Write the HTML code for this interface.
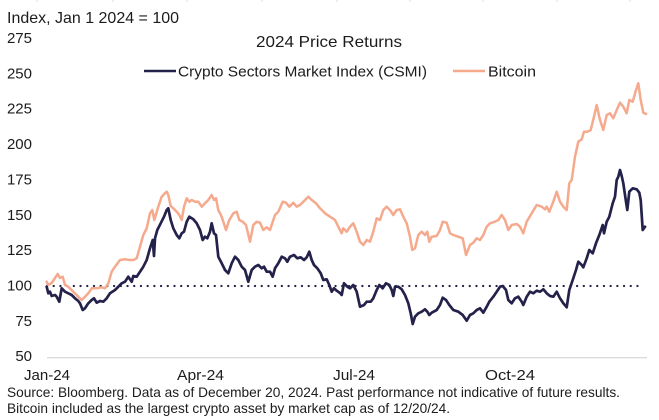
<!DOCTYPE html>
<html>
<head>
<meta charset="utf-8">
<style>
  html,body{margin:0;padding:0;background:#fff;}
  body{width:659px;height:420px;overflow:hidden;}
  svg{display:block;}
  text{font-family:"Liberation Sans",Arial,sans-serif;fill:#1c1c1c;}
</style>
</head>
<body>
<svg width="659" height="420" viewBox="0 0 659 420" xmlns="http://www.w3.org/2000/svg">
  <rect x="0" y="0" width="659" height="420" fill="#ffffff"/>

  <!-- faint top ticks -->
  <g stroke="#dedede" stroke-width="1">
    <line x1="37" y1="0" x2="37" y2="2"/>
    <line x1="113" y1="0" x2="113" y2="2"/>
    <line x1="187" y1="0" x2="187" y2="2"/>
    <line x1="262" y1="0" x2="262" y2="2"/>
    <line x1="337" y1="0" x2="337" y2="2"/>
    <line x1="410" y1="0" x2="410" y2="2"/>
    <line x1="483" y1="0" x2="483" y2="2"/>
    <line x1="557" y1="0" x2="557" y2="2"/>
    <line x1="630" y1="0" x2="630" y2="2"/>
  </g>

  <!-- axis title -->
  <text x="7" y="23" font-size="16" textLength="172" lengthAdjust="spacingAndGlyphs">Index, Jan 1 2024 = 100</text>

  <!-- y tick labels -->
  <g font-size="15" text-anchor="end">
    <text x="32" y="43">275</text>
    <text x="32" y="78.4">250</text>
    <text x="32" y="113.7">225</text>
    <text x="32" y="149">200</text>
    <text x="32" y="184.4">175</text>
    <text x="32" y="219.8">150</text>
    <text x="32" y="255.1">125</text>
    <text x="32" y="290.5">100</text>
    <text x="32" y="325.8">75</text>
    <text x="32" y="361">50</text>
  </g>

  <!-- chart title -->
  <text x="256" y="47" font-size="16" textLength="146" lengthAdjust="spacingAndGlyphs">2024 Price Returns</text>

  <!-- legend -->
  <line x1="144" y1="71" x2="176" y2="71" stroke="#24214a" stroke-width="2.6"/>
  <text x="178" y="76.5" font-size="15" textLength="249" lengthAdjust="spacingAndGlyphs">Crypto Sectors Market Index (CSMI)</text>
  <line x1="453" y1="71" x2="485" y2="71" stroke="#f5a98d" stroke-width="2.6"/>
  <text x="488" y="76.5" font-size="15" textLength="48" lengthAdjust="spacingAndGlyphs">Bitcoin</text>

  <!-- baseline -->
  <line x1="47" y1="357.7" x2="647" y2="357.7" stroke="#d4d4d4" stroke-width="1.2"/>

  <!-- dotted 100 line -->
  <line x1="47" y1="286" x2="642" y2="286" stroke="#24214a" stroke-width="2.3" stroke-linecap="round" stroke-dasharray="0.01 6.7"/>

  <!-- Bitcoin -->
  <polyline fill="none" stroke="#f5a98d" stroke-width="2.5" stroke-linejoin="round" stroke-linecap="round" points="
46.7,281.7 48,285 51.7,283 55,278 57.7,274 60,278 62.7,276.7 65,285 68.3,286.7 73.3,291.7 78.3,296.7 81.7,300 85,296.7 88.3,293.3 91.7,288.3 96.7,288.3 101.7,287.3 105,288.3 108.3,283.3 111.7,271.7 115,266.7 120,260 125,259.3 130,260 133.3,260 136.7,258.3 140,246.7 143.3,235 146.7,228.3 150,213.3 152.3,210 154.3,220 158.3,206.7 161.7,196.7 165,193.3 166.7,191.7 168.3,195 170.7,206 173.3,208.3 176.7,211.7 179.3,215 181.7,220 184,206.7 186.7,198.3 189.3,201.7 191.7,200 195,201.7 198.3,201.7 201.7,206.7 205,203.3 208.3,200 211.7,195 214,200 216,198.3 218.3,210 221.7,216.7 226,230 229.3,220 233.3,213.3 236.7,211.7 239.3,220 242.7,221.7 246,225 250,241.7 253.3,225 256.7,221.7 260,222.7 263.3,230 266.7,227.3 270,230 272.7,221.7 275,215 278.3,211.7 282.7,201.7 286,202.7 289.3,206.7 293.3,202.7 296.7,206.7 300,205 303.3,201.7 308.3,196.7 311.7,200 316,203.3 320,208.3 325,213.3 330,216.7 335,220 338.3,226.7 341.7,233.3 343.3,228.3 346.7,231.7 350,226.7 353.3,223.3 356.7,231.7 360,241.7 363.3,245 366.7,240 370,241.7 373.3,231.7 376.7,218.3 380,220 383.3,210 386.7,206.7 390,210 393.3,215 396.7,210 400,209.3 403.3,216.7 406.7,223.3 410,236.7 412.3,250 415,248.3 418.3,235 421.7,231.7 425,235 427.3,231.7 429.3,241.7 431.7,236.7 436.7,236 440,230 442.7,221.7 446.7,222.7 450,233.3 453.3,235 458.3,236.7 462.7,238.3 466,255 470,245 473.3,242.7 476.7,238.3 480,240 483.3,235 486.7,226.7 490,223.3 495,221.7 498.3,220 501.7,215 505,220 508.3,230 511.7,225 516.7,224 520,226.7 523.3,233.3 526.7,221.7 531.7,213.3 536.7,205 541.7,206.7 545,209.3 546.7,206.7 549.3,211.7 553.3,201.7 556.7,191.7 560,201.7 563.3,206.7 566.7,210 569.3,183.3 571.7,180 575,156.7 578.3,141.7 581.7,139.3 584,131.7 587.3,131.7 590.7,130 594,116.7 596.7,105 600,120 603.3,130 606.7,115 610,113.3 613.3,118.3 616.7,110 620,102.7 623.3,106.7 626.7,113.3 629.3,100 632.7,101.7 636,90 638.3,83.3 640.7,100 643.3,112.7 646,114"/>

  <!-- CSMI -->
  <polyline fill="none" stroke="#24214a" stroke-width="2.7" stroke-linejoin="round" stroke-linecap="round" points="
46.7,286.7 48.3,293.3 50,291.7 51.7,296 55,295 56.7,296.7 59.3,301.7 61.7,288.3 65,291.7 68.3,293.3 71.7,295 75,298.3 78.3,301 80,303.3 82.7,310 85,308.3 88.3,303.3 91.7,300 94,298.3 96.7,302.7 100,301 103.3,301.7 106.7,298.3 110,293.3 115,290 118.3,286.7 121.7,283.3 125,281.7 128.3,276.7 131.7,281.7 133.3,276 136.7,276.7 140,271.7 143.3,266.7 146.7,260 150,248.3 152.7,240 154,256 155,238.3 157.3,230 160.7,223.3 164,216.7 166.7,210 168.3,208.3 170.7,220 173.3,228.3 176.7,235 179.3,238.3 181.7,233.3 184,231.7 186.7,221.7 189.3,216.7 193.3,219.3 196.7,223.3 200,230 202.7,240 205,236.7 207.3,238.3 210,231.7 211.7,223.3 214,233.3 216,235 218.3,256.7 221.7,263.3 225,270 228.3,273.3 231.7,263.3 235,256.7 238.3,260 241.7,266.7 245,270 248.3,281.7 251.7,270 255,266.7 258.3,265 261.7,268.3 264,266.7 266.7,271.7 270,271.7 272.7,276.7 275,268.3 278.3,263.3 281.7,256.7 285,258.3 287.3,261.7 290,256.7 294,255 297.3,258.3 300.7,257.3 304,260 306.7,257.3 309.3,251.7 311.7,260 314,265 317.3,268.3 320.7,273.3 323.3,280 326.7,279.3 329.3,285 331.7,291.7 334,288.3 336.7,290.7 340,293 341.7,295 344,283.3 347.3,286.7 350,288.3 353.3,285 356.7,291.7 360,306.7 364,305 366.7,301.7 370.7,301.7 373.3,298.3 376.7,290 379.3,285 382.7,288.3 386,283.3 389.3,285 391.7,290 393.3,296 395,286.7 398.3,286.7 401.7,289.3 405,295 408.3,303.3 410.7,313.3 412.7,324 415,316.7 418.3,313.3 421.7,311.7 425,309.3 427.3,311.7 429.3,315 431.7,312.7 436.7,310 440,305 442.7,297.7 446,300 449.3,305 453.3,310 458.3,311.7 462.7,315 466.7,320.7 470,315 473.3,313.3 476.7,310 480,308.3 483.3,312.7 486.7,306.7 489.3,301.7 493.3,296.7 496.7,291.7 500,286.7 502.7,286 506,290 508.3,300 511.7,303.3 515,298.3 518.3,296.7 521.7,301.7 523.3,305 526.7,296.7 530,291.7 533.3,293.3 536.7,290.7 540,291.7 543.3,289.3 546.7,293.3 550,296 553.3,296.7 556.7,291.7 560,298.3 563.3,303.3 566.7,307.3 569.3,290 572.7,280 576,270 578.3,261.7 581.7,265 583.3,267.3 586.7,258.3 589.3,250 592.7,253.3 596,243.3 599.3,235 602.7,225 604,233.3 606.7,221.7 609.3,216.7 612.7,203.3 615,196.7 616.7,180 618.3,176.7 620,170 621.7,176 623.3,183.3 626,201.7 627.3,210 629.3,191.7 632.7,188.3 636.7,189.3 639.3,192.7 640.7,200 642.7,230 645,226.7"/>

  <!-- x tick labels -->
  <g font-size="15">
    <text x="24" y="380" textLength="46" lengthAdjust="spacingAndGlyphs">Jan-24</text>
    <text x="177" y="380" textLength="47" lengthAdjust="spacingAndGlyphs">Apr-24</text>
    <text x="333" y="380" textLength="42" lengthAdjust="spacingAndGlyphs">Jul-24</text>
    <text x="485" y="380" textLength="50" lengthAdjust="spacingAndGlyphs">Oct-24</text>
  </g>

  <!-- source -->
  <text x="7" y="397" font-size="14" textLength="613" lengthAdjust="spacingAndGlyphs">Source: Bloomberg. Data as of December 20, 2024. Past performance not indicative of future results.</text>
  <text x="7" y="413" font-size="14" textLength="443" lengthAdjust="spacingAndGlyphs">Bitcoin included as the largest crypto asset by market cap as of 12/20/24.</text>
</svg>
</body>
</html>
